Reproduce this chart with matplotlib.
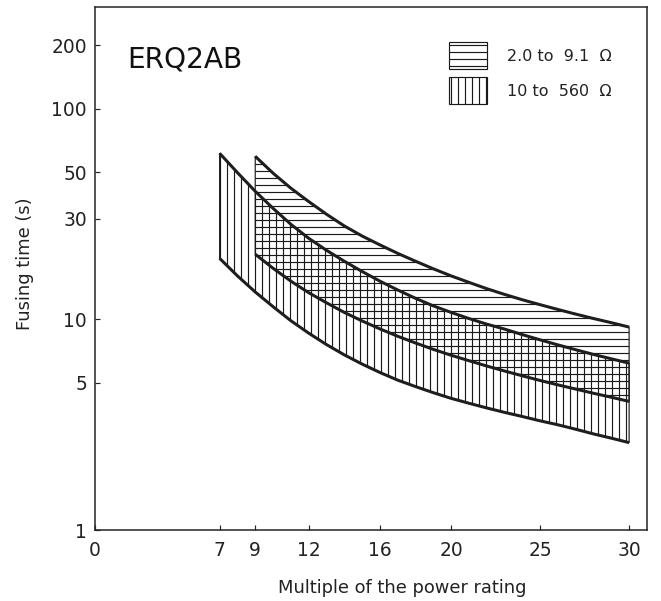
import matplotlib.pyplot as plt
from matplotlib.patches import Patch

# 2.0 to 9.1 ohm band (horizontal hatch)
x_low = [9, 10, 11, 12, 13, 14, 15, 16, 17, 18, 19, 20, 21, 22, 23, 24, 25, 26, 27, 28, 29, 30]
low_upper = [59.5, 49.5, 42.0, 36.3, 31.6, 27.8, 24.9, 22.6, 20.6, 18.9, 17.4, 16.1,
             15.0, 14.0, 13.15, 12.4, 11.75, 11.15, 10.6, 10.1, 9.65, 9.2]
low_lower = [20.4, 17.5, 15.2, 13.4, 12.0, 10.8, 9.84, 9.02, 8.32, 7.73, 7.21, 6.76,
             6.37, 6.01, 5.69, 5.40, 5.13, 4.89, 4.67, 4.46, 4.27, 4.08]

# 10 to 560 ohm band (vertical hatch)
x_high = [7, 8] + x_low
high_upper = [61.5, 49.8, 40.6, 33.7, 28.3, 24.3, 21.3, 18.9, 16.9, 15.2, 13.8, 12.6,
              11.6, 10.8, 10.1, 9.5, 9.0, 8.47, 8.0, 7.57, 7.18, 6.82, 6.50, 6.2]
high_lower = [19.5, 16.1, 13.5, 11.5, 9.86, 8.61, 7.60, 6.79, 6.14, 5.60, 5.15, 4.80,
              4.49, 4.22, 4.00, 3.80, 3.62, 3.46, 3.30, 3.16, 3.01, 2.86, 2.73, 2.60]

xticks = [0, 7, 9, 12, 16, 20, 25, 30]
yticks = [1, 5, 10, 30, 50, 100, 200]
labels = ['2.0 to  9.1  Ω', '10 to  560  Ω']

plt.rcParams['hatch.linewidth'] = 1.0
dpi = 84
fig = plt.figure(figsize=(661 / dpi, 601 / dpi), dpi=dpi)
ax = fig.add_axes([0.1437, 0.1181, 0.835, 0.870])

ax.fill_between(x_low, low_lower, low_upper, facecolor='none', edgecolor='#1a1a1a',
                hatch='--', linewidth=1.0)
ax.fill_between(x_high, high_lower, high_upper, facecolor='none', edgecolor='#1a1a1a',
                hatch='||', linewidth=1.0)
for xs, ys in [(x_low, low_upper), (x_low, low_lower), (x_high, high_upper), (x_high, high_lower)]:
  ax.plot(xs, ys, color='#1e1e1e', lw=2.6, solid_capstyle='butt', solid_joinstyle='round')

ax.set_yscale('log')
ax.set_xlim(0, 31)
ax.set_ylim(1, 304)
ax.set_xticks(xticks)
ax.set_xticklabels([str(t) for t in xticks])
ax.set_yticks(yticks)
ax.set_yticklabels([str(t) for t in yticks])
ax.minorticks_off()
ax.tick_params(direction='in', length=4, width=1, colors='#222222', labelsize=16,
               labelcolor='#222222')
ax.tick_params(axis='y', pad=7)
ax.tick_params(axis='x', pad=9)
for s in ax.spines.values():
  s.set_color('#222222')
  s.set_linewidth(1.3)

ax.set_xlabel('Multiple of the power rating', fontsize=15.3, color='#222222')
ax.set_ylabel('Fusing time (s)', fontsize=15.3, color='#222222')
ax.xaxis.set_label_coords(0.557, -0.093)
ax.yaxis.set_label_coords(-0.1105, 0.51)

ax.text(1.8, 158, 'ERQ2AB', fontsize=24, va='baseline', ha='left', color='#111111')

handles = [Patch(facecolor='white', edgecolor='#1a1a1a', hatch='--', linewidth=1.0),
           Patch(facecolor='white', edgecolor='#1a1a1a', hatch='||', linewidth=1.0)]
ax.legend(handles, labels, loc='upper left', bbox_to_anchor=(0.641, 0.933), frameon=False,
          fontsize=13.7, handlelength=2.38, handleheight=2.22, handletextpad=1.25,
          labelspacing=0.5, borderpad=0, borderaxespad=0, labelcolor='#222222')

plt.savefig('out.png', dpi=dpi)
